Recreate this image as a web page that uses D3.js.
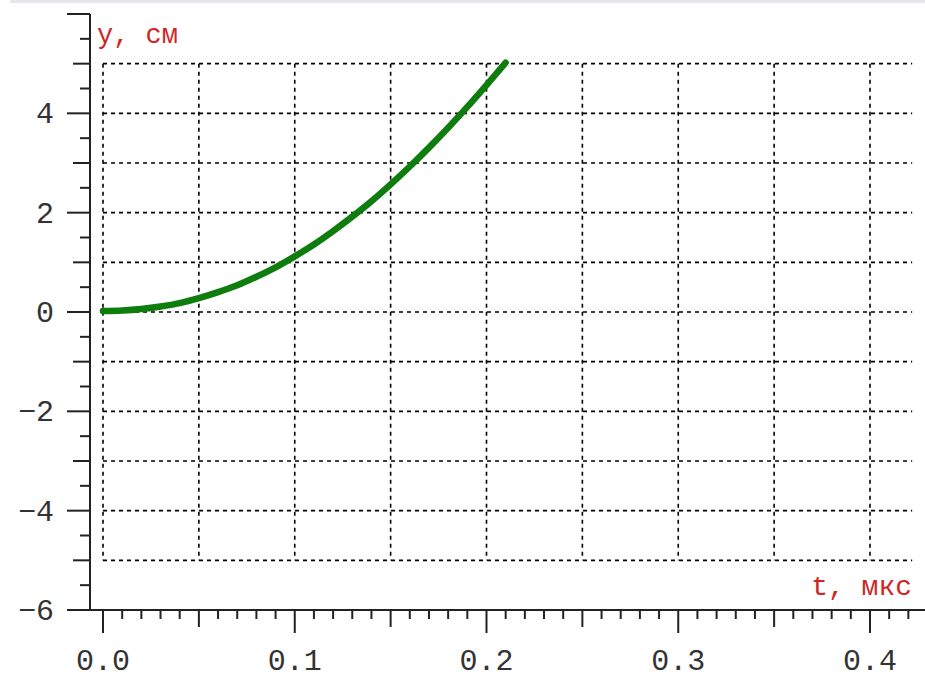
<!DOCTYPE html>
<html>
<head>
<meta charset="utf-8">
<script src="https://cdn.jsdelivr.net/npm/d3@7"></script>
<style>
  html, body { margin: 0; padding: 0; background: #fff; }
  svg { display: block; }
</style>
</head>
<body>
<svg id="chart" width="925" height="680"></svg>
<script>
// curve: t in мкс, y in см
const tValues = [0.000, 0.010, 0.020, 0.030, 0.040, 0.050, 0.060, 0.070, 0.080, 0.090, 0.100,
                 0.110, 0.120, 0.130, 0.140, 0.150, 0.160, 0.170, 0.180, 0.190, 0.200, 0.210];
const yValues = [0.02, 0.03, 0.06, 0.11, 0.18, 0.28, 0.40, 0.54, 0.71, 0.90, 1.12,
                 1.36, 1.63, 1.92, 2.23, 2.57, 2.93, 3.31, 3.71, 4.13, 4.57, 5.02];

// tick labels
const xTickLabels = ['0.0', '0.1', '0.2', '0.3', '0.4'];
const yTickLabels = ['-6', '-4', '-2', '0', '2', '4'];

// axis titles
const xTitle = 't, мкс';
const yTitle = 'y, см';

const svg = d3.select('#chart');

// thin grey band along the top edge
svg.append('rect')
  .attr('x', 10).attr('y', 0)
  .attr('width', 915).attr('height', 3)
  .attr('fill', '#e7e7eb');

const x = d3.scaleLinear().domain([0, 0.4]).range([103, 870]);
const y = d3.scaleLinear().domain([-6, 6]).range([610, 14]);

const axisX = 90, axisY = 610;
const font = '"Liberation Mono", "DejaVu Sans Mono", monospace';

// dashed grid, from t=0 to 0.42 and y=-5 to 5
const grid = svg.append('g')
  .attr('stroke', '#000')
  .attr('stroke-width', 1.6)
  .attr('stroke-dasharray', '4,4');

grid.selectAll('line.h')
  .data(d3.range(-5, 6, 1))
  .enter().append('line')
    .attr('class', 'h')
    .attr('x1', x(0)).attr('x2', x(0.422))
    .attr('y1', d => y(d)).attr('y2', d => y(d));

grid.selectAll('line.v')
  .data(d3.range(0, 0.401, 0.05))
  .enter().append('line')
    .attr('class', 'v')
    .attr('x1', d => x(d)).attr('x2', d => x(d))
    .attr('y1', y(5)).attr('y2', y(-5));

// axis lines
const axes = svg.append('g').attr('stroke', '#222').attr('stroke-width', 2);
axes.append('line').attr('x1', axisX).attr('x2', axisX).attr('y1', y(6)).attr('y2', axisY);
axes.append('line').attr('x1', axisX).attr('x2', 925).attr('y1', axisY).attr('y2', axisY);

// x ticks: every 0.01, longer at 0.05, longest at 0.1
const xTicks = d3.range(0, 43).map(i => i / 100);
axes.selectAll('line.xt')
  .data(xTicks)
  .enter().append('line')
    .attr('class', 'xt')
    .attr('x1', d => x(d)).attr('x2', d => x(d))
    .attr('y1', axisY)
    .attr('y2', (d, i) => axisY + (i % 10 === 0 ? 23 : i % 5 === 0 ? 17 : 9));

// y ticks: every 0.5, longer at odd, longest at even
const yTicks = d3.range(-12, 13).map(i => i / 2);
axes.selectAll('line.yt')
  .data(yTicks)
  .enter().append('line')
    .attr('class', 'yt')
    .attr('y1', d => y(d)).attr('y2', d => y(d))
    .attr('x1', axisX)
    .attr('x2', d => axisX - (d % 2 === 0 ? 23 : Number.isInteger(d) ? 17 : 10));

// tick labels
svg.selectAll('text.xl')
  .data(xTickLabels)
  .enter().append('text')
    .attr('class', 'xl')
    .attr('x', d => x(+d))
    .attr('y', 670)
    .attr('text-anchor', 'middle')
    .attr('font-family', font)
    .attr('font-size', 30)
    .attr('fill', '#333')
    .text(d => d);

svg.selectAll('text.yl')
  .data(yTickLabels)
  .enter().append('text')
    .attr('class', 'yl')
    .attr('x', 54)
    .attr('y', d => y(+d) + 10)
    .attr('text-anchor', 'end')
    .attr('font-family', font)
    .attr('font-size', 30)
    .attr('fill', '#333')
    .text(d => d.replace('-', '\u2212'));

// axis titles in red
svg.append('text')
  .attr('x', 97).attr('y', 43)
  .attr('font-family', font)
  .attr('font-size', 27)
  .attr('fill', '#d02525')
  .text(yTitle);

svg.append('text')
  .attr('x', 912).attr('y', 595)
  .attr('text-anchor', 'end')
  .attr('font-family', font)
  .attr('font-size', 28)
  .attr('fill', '#d02525')
  .text(xTitle);

// the curve
const points = tValues.map((t, i) => ({ t, v: yValues[i] }));
const line = d3.line()
  .x(d => x(d.t))
  .y(d => y(d.v))
  .curve(d3.curveMonotoneX);

svg.append('path')
  .datum(points)
  .attr('d', line)
  .attr('fill', 'none')
  .attr('stroke', '#0e7d0e')
  .attr('stroke-width', 6.5)
  .attr('stroke-linecap', 'round');
</script>
</body>
</html>
